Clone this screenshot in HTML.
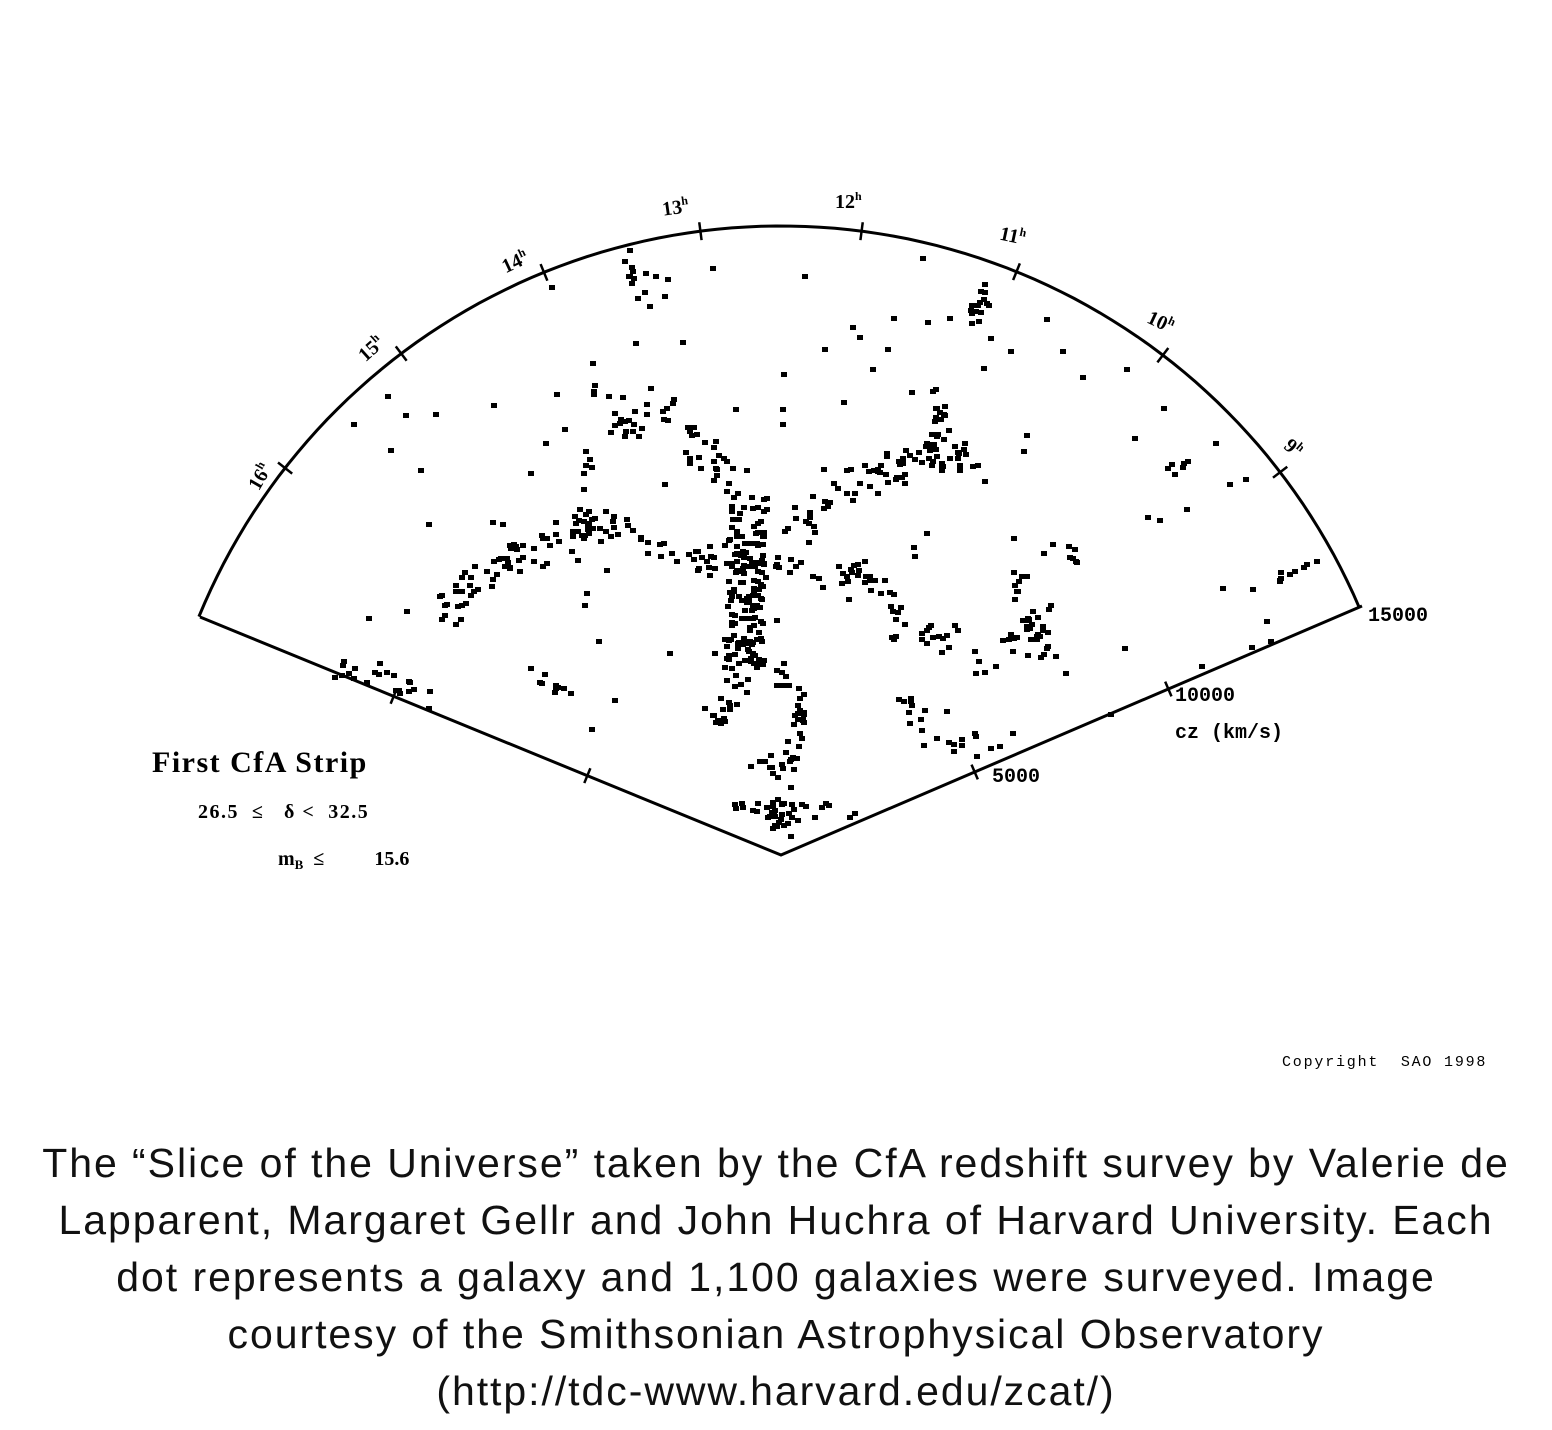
<!DOCTYPE html>
<html><head><meta charset="utf-8"><style>
body{margin:0;background:#fff;width:1552px;height:1430px;overflow:hidden;position:relative;font-family:"Liberation Sans",sans-serif}
.cap{position:absolute;left:0;top:1135px;width:1552px;text-align:center;font-size:41px;letter-spacing:1.95px;line-height:57px;color:#111;white-space:nowrap}
</style></head><body>
<svg id="s" width="1552" height="1100" style="position:absolute;left:0;top:0" font-family="Liberation Serif,serif" font-weight="bold">
<path d="M200,617 L781,855 L1362,606" fill="none" stroke="#000" stroke-width="3"/>
<path id="arc" fill="none" stroke="#000" stroke-width="3"/>
<g id="ticks" stroke="#000" stroke-width="2.5"></g>
<g id="dots" fill="#000"></g>
<g font-size="20">
<text x="662" y="214" transform="rotate(-8 675 207)">13<tspan font-size="12" dy="-8">h</tspan></text>
<text x="835" y="208">12<tspan font-size="12" dy="-8">h</tspan></text>
<text x="1000" y="242" transform="rotate(12 1012 235)">11<tspan font-size="12" dy="-8">h</tspan></text>
<text x="1148" y="328" transform="rotate(25 1160 320)">10<tspan font-size="12" dy="-8">h</tspan></text>
<text x="1284" y="456" transform="rotate(40 1295 450)">9<tspan font-size="12" dy="-8">h</tspan></text>
<text x="500" y="268" transform="rotate(-25 515 258)">14<tspan font-size="12" dy="-8">h</tspan></text>
<text x="355" y="355" transform="rotate(-42 370 345)">15<tspan font-size="12" dy="-8">h</tspan></text>
<text x="240" y="485" transform="rotate(-60 255 472)">16<tspan font-size="12" dy="-8">h</tspan></text>
</g>
<g font-family="Liberation Mono,monospace" font-size="20">
<text x="1368" y="621">15000</text>
<text x="1175" y="701">10000</text>
<text x="1175" y="738">cz (km/s)</text>
<text x="992" y="782">5000</text>
</g>
<text x="152" y="772" font-size="30" letter-spacing="1.5">First CfA Strip</text>
<text x="198" y="818" font-size="20" letter-spacing="1.5" xml:space="preserve">26.5  ≤   δ &lt;  32.5</text>
<text x="278" y="865" font-size="20" xml:space="preserve">m<tspan font-size="13" dy="4">B</tspan><tspan dy="-4">  ≤          15.6</tspan></text>
<text x="1282" y="1066" font-family="Liberation Mono,monospace" font-weight="normal" font-size="15" letter-spacing="1.8" xml:space="preserve">Copyright  SAO 1998</text>
</svg>
<div class="cap">The “Slice of the Universe” taken by the CfA redshift survey by Valerie de<br>Lapparent, Margaret Gellr and John Huchra of Harvard University. Each<br>dot represents a galaxy and 1,100 galaxies were surveyed. Image<br>courtesy of the Smithsonian Astrophysical Observatory<br>(http://tdc-www.harvard.edu/zcat/)</div>
<script>
var cx=781,cy=855,R=629,NS="http://www.w3.org/2000/svg";
var a0=Math.atan2(617-cy,200-cx),a1=Math.atan2(606-cy,1362-cx);
var d="";for(var i=0;i<=100;i++){var a=a0+(a1-a0)*i/100;d+=(i?"L":"M")+(cx+R*Math.cos(a)).toFixed(1)+","+(cy+R*Math.sin(a)).toFixed(1);}
document.getElementById("arc").setAttribute("d",d);
var T=document.getElementById("ticks");
function ln(x1,y1,x2,y2){var l=document.createElementNS(NS,"line");l.setAttribute("x1",x1);l.setAttribute("y1",y1);l.setAttribute("x2",x2);l.setAttribute("y2",y2);T.appendChild(l);}
[[700,228],[862,228],[1018,268],[1163,355],[1283,470],[543,270],[400,352],[285,468]].forEach(function(p){var a=Math.atan2(p[1]-cy,p[0]-cx);ln(cx+(R-9)*Math.cos(a),cy+(R-9)*Math.sin(a),cx+(R+9)*Math.cos(a),cy+(R+9)*Math.sin(a));});
[[1,5000/15000],[1,10000/15000],[0,5000/15000],[0,10000/15000]].forEach(function(q){var ex=q[0]?1362:200,ey=q[0]?606:617;var x=cx+(ex-cx)*q[1],y=cy+(ey-cy)*q[1];var nx=-(ey-cy),ny=ex-cx,L=Math.hypot(nx,ny);ln(x-nx/L*8,y-ny/L*8,x+nx/L*8,y+ny/L*8);});
var seed=7;function r(){seed=(seed*16807)%2147483647;return seed/2147483647;}
var G=document.getElementById("dots");
function dot(x,y){var e=document.createElementNS(NS,"rect");e.setAttribute("x",x.toFixed(0));e.setAttribute("y",y.toFixed(0));e.setAttribute("width",6);e.setAttribute("height",5);G.appendChild(e);}
function fil(pts,n,s){for(var k=0;k<n;k++){var t=r()*(pts.length-1),i=Math.floor(t),f=t-i;var p=pts[i],q=pts[Math.min(i+1,pts.length-1)];dot(p[0]+(q[0]-p[0])*f+(r()-.5)*s,p[1]+(q[1]-p[1])*f+(r()-.5)*s);}}
fil([[745,505],[745,560],[742,620],[740,660]],150,38);
fil([[740,660],[730,700],[705,720]],20,25);
fil([[760,650],[790,690],[800,730]],20,20);
fil([[745,555],[700,560],[640,540],[600,520],[550,540],[500,560],[470,580],[440,615]],110,30);
fil([[760,560],[820,575],[870,570]],30,22);
fil([[790,530],[830,490],[880,470],[930,450],[975,460]],80,30);
fil([[930,450],[940,400]],12,15);
fil([[875,580],[900,620],[940,640],[980,660],[1020,640],[1040,610]],50,30);
fil([[1030,620],[1060,670]],15,20);
fil([[590,370],[620,420],[660,410],[700,450],[720,480]],50,35);
fil([[580,440],[585,500],[580,540]],15,20);
fil([[800,720],[780,770],[780,830]],30,22);
fil([[720,800],[760,810],[800,810],[860,810]],25,18);
fil([[740,760],[800,760]],12,15);
fil([[330,665],[380,680],[420,690]],20,20);
fil([[520,680],[570,690]],8,12);
fil([[990,280],[970,320]],15,14);
fil([[630,250],[640,300]],12,20);
fil([[900,690],[930,740],[1010,740]],22,20);
fil([[1010,600],[1020,560]],8,15);
fil([[1060,540],[1075,555]],6,12);
fil([[1165,470],[1190,460]],5,10);
fil([[1270,580],[1310,560]],8,10);
for(var k=0;k<110;k++){var a=a0+(a1-a0)*r(),rr=R*(0.2+0.78*Math.sqrt(r()));var x=cx+rr*Math.cos(a),y=cy+rr*Math.sin(a);dot(x,y);}
</script>
</body></html>
